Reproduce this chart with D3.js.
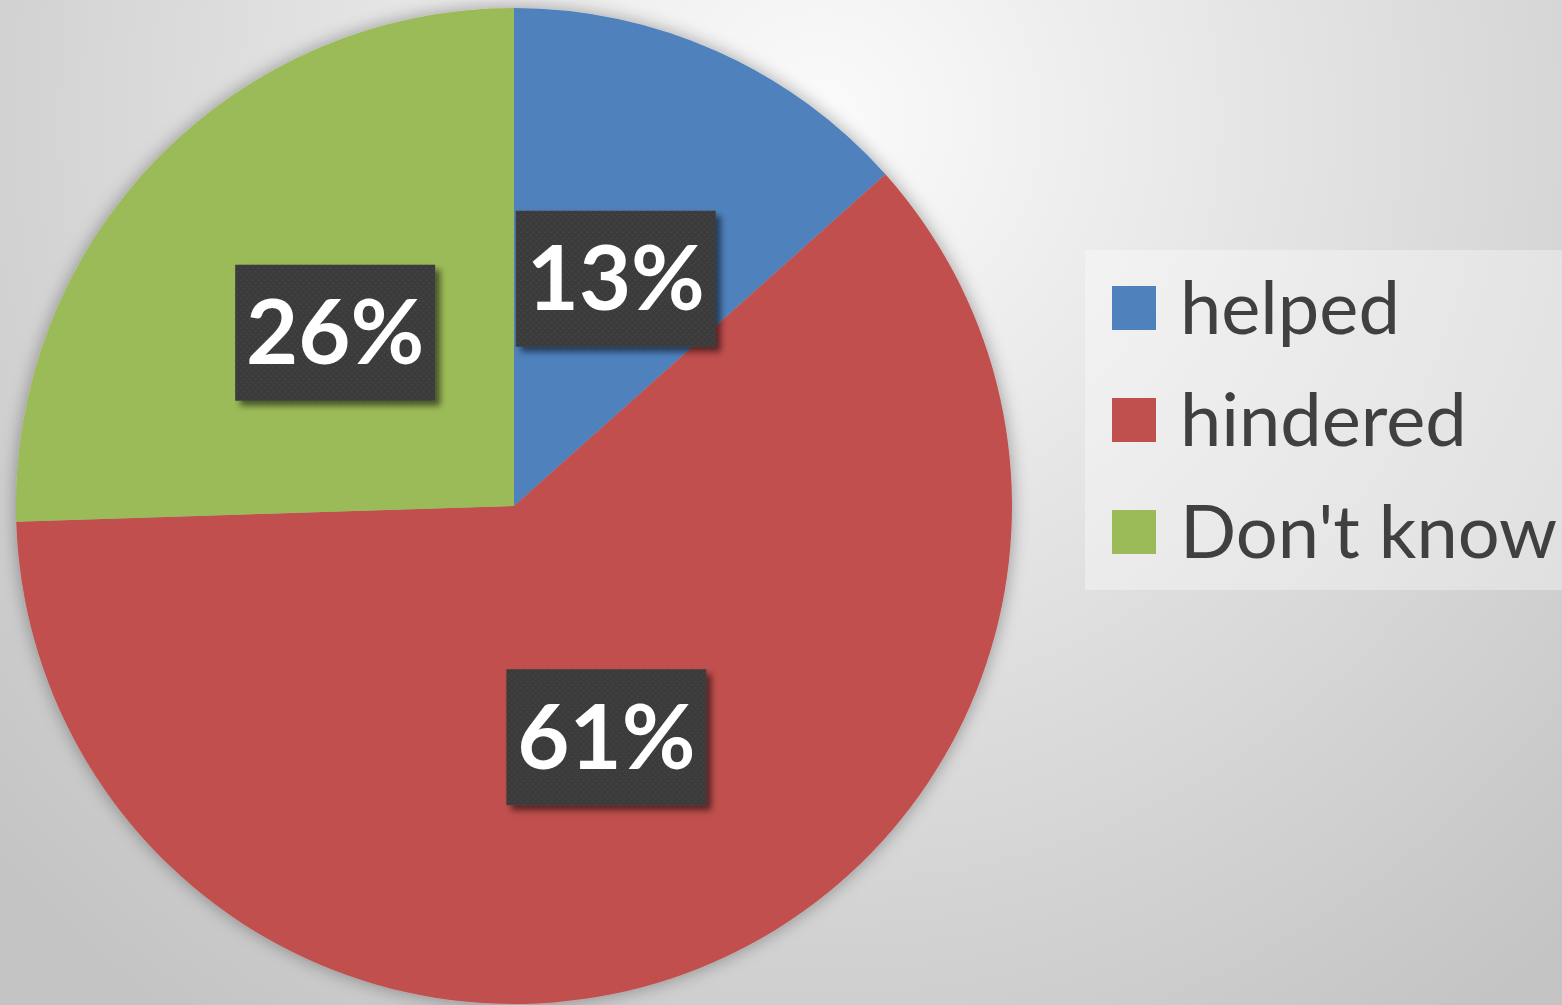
<!DOCTYPE html>
<html>
<head>
<meta charset="utf-8">
<script src="https://cdn.jsdelivr.net/npm/d3@7"></script>
<style>
  html, body { margin: 0; padding: 0; overflow: hidden; }
  svg { display: block; }
</style>
</head>
<body>
<div id="chart"></div>
<script>
var categories = ["helped", "hindered", "Don't know"];
var values = [13.4, 61.1, 25.5];
var labels = ["13%", "61%", "26%"];
var colours = ["#4f81bd", "#c0504d", "#9bbb59"];

var width = 1562,
    height = 1005;

var cx = 514, cy = 506, radius = 498;

var svg = d3.select("#chart")
    .append("svg")
    .attr("width", width)
    .attr("height", height);

var defs = svg.append("defs");

// background
var bg = defs.append("radialGradient")
    .attr("id", "bgGrad")
    .attr("gradientUnits", "userSpaceOnUse")
    .attr("cx", 820).attr("cy", 120).attr("r", 1100);
bg.append("stop").attr("offset", "0%").attr("stop-color", "#fbfbfb");
bg.append("stop").attr("offset", "100%").attr("stop-color", "#c4c4c4");

svg.append("rect")
    .attr("width", width)
    .attr("height", height)
    .attr("fill", "url(#bgGrad)");

// soft halo behind the pie
var halo = defs.append("filter")
    .attr("id", "halo")
    .attr("x", "-20%").attr("y", "-20%")
    .attr("width", "140%").attr("height", "140%");
halo.append("feGaussianBlur").attr("in", "SourceAlpha").attr("stdDeviation", 9).attr("result", "b");
halo.append("feComponentTransfer").attr("in", "b").attr("result", "c")
    .append("feFuncA").attr("type", "linear").attr("slope", 0.35);
var hm = halo.append("feMerge");
hm.append("feMergeNode").attr("in", "c");
hm.append("feMergeNode").attr("in", "SourceGraphic");

// label box shadow
var sh = defs.append("filter")
    .attr("id", "boxShadow")
    .attr("x", "-20%").attr("y", "-20%")
    .attr("width", "150%").attr("height", "150%");
sh.append("feGaussianBlur").attr("in", "SourceAlpha").attr("stdDeviation", 3).attr("result", "b");
sh.append("feOffset").attr("in", "b").attr("dx", 5).attr("dy", 5).attr("result", "o");
sh.append("feComponentTransfer").attr("in", "o").attr("result", "c")
    .append("feFuncA").attr("type", "linear").attr("slope", 0.55);
var sm = sh.append("feMerge");
sm.append("feMergeNode").attr("in", "c");
sm.append("feMergeNode").attr("in", "SourceGraphic");

// dotted texture of label boxes
var pat = defs.append("pattern")
    .attr("id", "dots")
    .attr("patternUnits", "userSpaceOnUse")
    .attr("width", 6).attr("height", 6);
pat.append("rect").attr("width", 6).attr("height", 6).attr("fill", "#3a3a3a");
pat.append("circle").attr("cx", 1.5).attr("cy", 1.5).attr("r", 1).attr("fill", "#474747");
pat.append("circle").attr("cx", 4.5).attr("cy", 4.5).attr("r", 1).attr("fill", "#474747");

// legend backdrop
svg.append("rect")
    .attr("x", 1085).attr("y", 250)
    .attr("width", 477).attr("height", 340)
    .attr("fill", "#ffffff")
    .attr("opacity", 0.35);

var pie = d3.pie().sort(null).value(function(d) { return d; });
var arcs = pie(values);

var arc = d3.arc().innerRadius(0).outerRadius(radius);

var g = svg.append("g")
    .attr("transform", "translate(" + cx + "," + cy + ")");

g.append("g")
    .attr("filter", "url(#halo)")
    .selectAll("path")
    .data(arcs)
    .enter().append("path")
    .attr("d", arc)
    .attr("fill", function(d, i) { return colours[i]; });

// data labels
var boxW = 200, boxH = 136;
var lab = g.selectAll(".lab")
    .data(arcs)
    .enter().append("g")
    .attr("class", "lab")
    .attr("transform", function(d) {
        var c = arc.centroid(d);
        return "translate(" + c[0] + "," + c[1] + ")";
    });

lab.append("rect")
    .attr("x", -boxW / 2)
    .attr("y", -boxH / 2)
    .attr("width", boxW)
    .attr("height", boxH)
    .attr("fill", "url(#dots)")
    .attr("filter", "url(#boxShadow)");

lab.append("text")
    .attr("text-anchor", "middle")
    .attr("dy", "0.35em")
    .attr("fill", "#ffffff")
    .attr("font-family", "Lato, 'Open Sans', sans-serif")
    .attr("font-weight", "bold")
    .attr("font-size", "90px")
    .text(function(d, i) { return labels[i]; });

// legend
var legend = svg.append("g")
    .selectAll("g")
    .data(categories)
    .enter().append("g")
    .attr("transform", function(d, i) { return "translate(1112," + (308 + i * 112) + ")"; });

legend.append("rect")
    .attr("x", 0)
    .attr("y", -22)
    .attr("width", 44)
    .attr("height", 44)
    .attr("fill", function(d, i) { return colours[i]; });

legend.append("text")
    .attr("x", 68)
    .attr("dy", "0.35em")
    .attr("fill", "#404040")
    .attr("font-family", "Lato, 'Open Sans', sans-serif")
    .attr("font-size", "74px")
    .text(function(d) { return d; });
</script>
</body>
</html>
